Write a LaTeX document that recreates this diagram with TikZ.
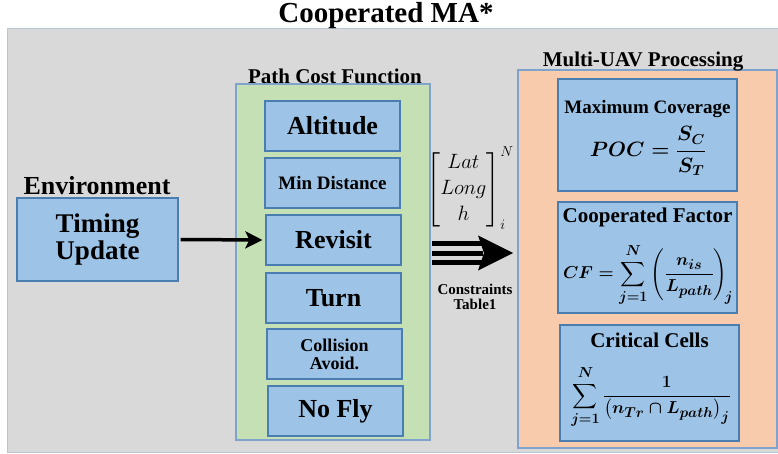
\documentclass[tikz,border=0pt]{standalone}
\usepackage{amsmath}
\usepackage{fontspec}
\setmainfont{Liberation Serif}[BoldFont={Liberation Serif Bold}]
\usetikzlibrary{arrows.meta}
\definecolor{bggray}{HTML}{D9D9D9}
\definecolor{bgline}{HTML}{B8C6D6}
\definecolor{greenfill}{HTML}{C5E0B4}
\definecolor{orangefill}{HTML}{F8CBAD}
\definecolor{bluefill}{HTML}{9DC3E6}
\definecolor{blueline}{HTML}{4A7EB0}
\definecolor{panelline}{HTML}{7FA3CC}
\newcommand{\fsz}[1]{\fontsize{#1}{#1}\selectfont}
\newcommand{\uplim}{N\rule[-3pt]{0pt}{1pt}}
\tikzset{
  panel/.style={draw=panelline, line width=1.2pt, inner sep=0pt},
  bbox/.style={draw=blueline, fill=bluefill, line width=1.2pt, inner sep=0pt, align=center, font=\bfseries},
  lbl/.style={inner sep=0pt, align=center, font=\bfseries},
  bmath/.style={inner sep=0pt, font=\fontsize{#1}{#1}\selectfont\mathversion{bold}},
  nmath/.style={inner sep=0pt, font=\fontsize{#1}{26}\selectfont},
}
\begin{document}
\begin{tikzpicture}[x=1pt,y=-1pt]
\useasboundingbox (0,0) rectangle (778,454);
% background
\node[draw=bgline, fill=bggray, line width=1pt, minimum width=771pt, minimum height=423pt, inner sep=0pt] (bg) at (392.5,240.5) {};
\node[lbl, font=\bfseries\fsz{29}] (title) at (386,16) {Cooperated MA*};
% panels
\node[panel, fill=greenfill, minimum width=194pt, minimum height=356pt] (green) at (333,262) {};
\node[panel, fill=orangefill, minimum width=259pt, minimum height=378pt] (orange) at (647.5,259) {};
\node[lbl, font=\bfseries\fsz{21}] (pcf) at (335,76) {Path Cost Function};
\node[lbl, font=\bfseries\fsz{21}] (muav) at (643,62) {Multi-UAV Processing};
% environment
\node[lbl, font=\bfseries\fsz{26}] (env) at (97,186) {Environment};
\node[bbox, minimum width=161pt, minimum height=83pt, font=\bfseries\fsz{27}] (timing) at (97.5,239.5) {\fontsize{27}{32}\selectfont Timing\\Update};
% path cost boxes
\node[bbox, minimum width=135pt, minimum height=50pt, font=\bfseries\fsz{26}] (alt) at (332.5,126) {Altitude};
\node[bbox, minimum width=135pt, minimum height=50pt, font=\bfseries\fsz{19}] (mind) at (332.5,183) {Min Distance};
\node[bbox, minimum width=135pt, minimum height=50pt, font=\bfseries\fsz{26}] (rev) at (333.5,240) {Revisit};
\node[bbox, minimum width=135pt, minimum height=50pt, font=\bfseries\fsz{26}] (turn) at (333.5,298) {Turn};
\node[bbox, minimum width=135pt, minimum height=50pt, font=\bfseries\fsz{18}] (coll) at (334.5,354) {\fontsize{18}{23}\selectfont Collision\\Avoid.};
\node[bbox, minimum width=135pt, minimum height=50pt, font=\bfseries\fsz{26}] (nofly) at (335.5,411) {No Fly};
% multi-UAV boxes
\node[bbox, minimum width=179pt, minimum height=112pt] (maxc) at (647.5,135) {};
\node[bbox, minimum width=179pt, minimum height=111pt] (coopf) at (647.5,257.5) {};
\node[bbox, minimum width=179pt, minimum height=116pt] (crit) at (649.5,383) {};
\node[lbl, font=\bfseries\fsz{19}] (maxct) at (647.5,109) {Maximum Coverage};
\node[bmath=20] (maxcf) at (648,151) {$\displaystyle POC=\frac{S_C}{S_T}$};
\node[lbl, font=\bfseries\fsz{21}] (coopt) at (647.5,217) {Cooperated Factor};
\node[bmath=19] (coopfm) at (648,275) {$\displaystyle CF=\sum_{j=1}^{\uplim}\left(\frac{n_{is}}{L_{path}}\right)_{\!j}$};
\node[lbl, font=\bfseries\fsz{21}] (critt) at (649.5,340) {Critical Cells};
\node[bmath=19] (critf) at (651,397) {$\displaystyle \sum_{j=1}^{\uplim}\frac{1}{\left(n_{Tr}\cap L_{path}\right)_j}$};
% vector
\node[nmath=20] (vec) at (470,188) {$\begin{bmatrix}Lat\\Long\\h\end{bmatrix}_i^N$};
\node[lbl, font=\bfseries\fsz{15}] (cons) at (475,297) {\fontsize{15}{21}\selectfont Constraints\\Table1};
% arrows
\draw[line width=3.5pt, -{Stealth[length=17pt,width=17pt,inset=4pt]}, shorten <=2pt, shorten >=3pt] (timing.east) -- (rev.west);
\coordinate (ta) at (432,253);
\coordinate (tb) at (513,253);
\foreach \d in {-9.5,0,9.5}{
  \draw[line width=5pt] ([yshift=\d pt]ta) -- ([xshift=-30pt,yshift=\d pt]tb);
}
\fill ([xshift=-35pt,yshift=-17.5pt]tb) -- (tb) -- ([xshift=-35pt,yshift=17.5pt]tb) -- ([xshift=-29pt]tb) -- cycle;
\end{tikzpicture}
\end{document}
